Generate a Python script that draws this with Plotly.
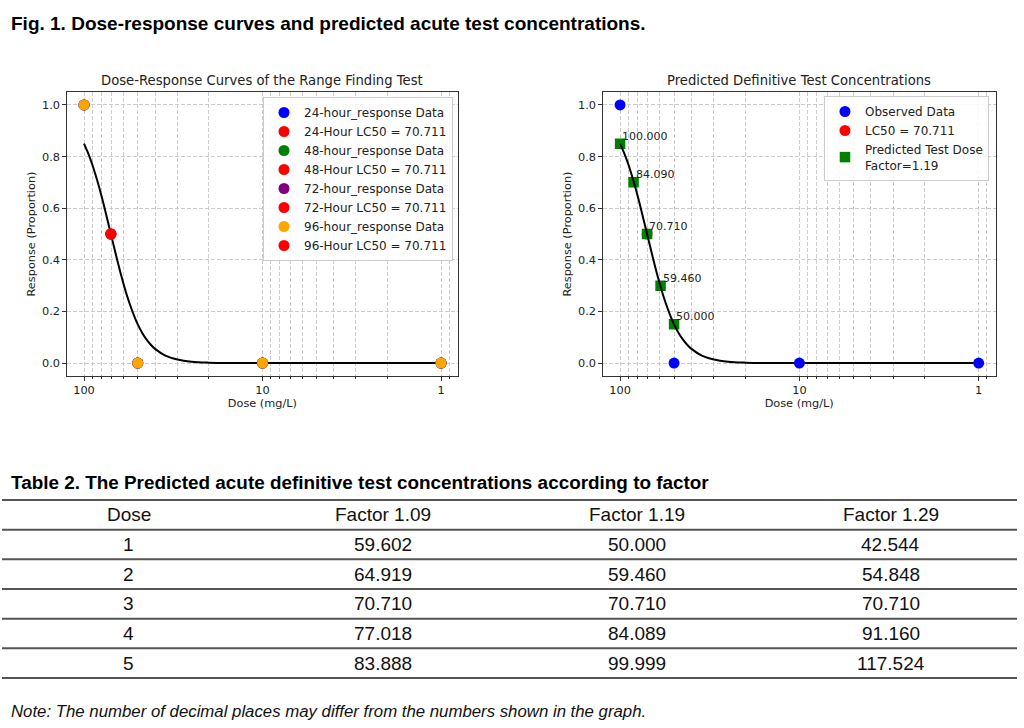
import numpy as np
import plotly.graph_objects as go

W, H = 1024, 728

# ---------------- data ----------------
hours = [24, 48, 72, 96]
hour_colors = ["#0000ff", "#008000", "#800080", "#ffa500"]
obs_dose = [100, 50, 10, 1]
resp_24 = [1.0, 0.0, 0.0, 0.0]
resp_48 = [1.0, 0.0, 0.0, 0.0]
resp_72 = [1.0, 0.0, 0.0, 0.0]
resp_96 = [1.0, 0.0, 0.0, 0.0]
hour_resp = [resp_24, resp_48, resp_72, resp_96]
lc50 = 70.711

curve_dose = [100, 97, 95, 92, 90, 87, 84.09, 80, 75, 70.711, 65, 62, 59.46, 57,
              55, 52, 50, 47, 45, 42, 40, 35, 30, 25, 20, 15, 10, 5, 2, 1]
curve_resp = [0.85, 0.829, 0.814, 0.789, 0.770, 0.738, 0.704, 0.650, 0.573, 0.50,
              0.396, 0.341, 0.296, 0.254, 0.222, 0.177, 0.150, 0.115, 0.095, 0.069,
              0.055, 0.029, 0.014, 0.0055, 0.0018, 0.0004, 0.0001, 0.0, 0.0, 0.0]

pred_dose = [100.000, 84.090, 70.710, 59.460, 50.000]
pred_resp = [0.85, 0.70, 0.50, 0.30, 0.15]
factor = 1.19

table_header = ["Dose", "Factor 1.09", "Factor 1.19", "Factor 1.29"]
table_dose = ["1", "2", "3", "4", "5"]
factor_109 = ["59.602", "64.919", "70.710", "77.018", "83.888"]
factor_119 = ["50.000", "59.460", "70.710", "84.089", "99.999"]
factor_129 = ["42.544", "54.848", "70.710", "91.160", "117.524"]

x_major = [100, 10, 1]
x_minor = [0.9, 2, 3, 4, 5, 6, 7, 8, 9, 20, 30, 40, 50, 60, 70, 80, 90]
y_ticks = [0.0, 0.2, 0.4, 0.6, 0.8, 1.0]

# ---------------- helpers ----------------
def px(x):
    return x / W

def py(y):
    return 1 - y / H

MPL = "DejaVu Sans"
ARIAL = "Liberation Sans"
TXT = "#222222"
GRID = "#cccccc"
TICK_FS = 11.3
LEG_FS = 12

fig = go.Figure()

# left chart: curve first, then markers on top
fig.add_trace(go.Scatter(x=curve_dose, y=curve_resp, mode="lines",
                         line=dict(color="black", width=2, shape="spline", smoothing=1.0),
                         xaxis="x", yaxis="y", showlegend=False, hoverinfo="skip"))
for h, c, r in zip(hours, hour_colors, hour_resp):
    fig.add_trace(go.Scatter(x=obs_dose, y=r, mode="markers",
                             marker=dict(color=c, size=11, line=dict(width=0)),
                             name=f"{h}-hour_response Data", xaxis="x", yaxis="y",
                             legend="legend"))
    fig.add_trace(go.Scatter(x=[lc50], y=[0.5], mode="markers",
                             marker=dict(color="#ff0000", size=11, line=dict(width=0)),
                             name=f"{h}-Hour LC50 = {lc50:.3f}", xaxis="x", yaxis="y",
                             legend="legend"))

# right chart
fig.add_trace(go.Scatter(x=[lc50], y=[0.5], mode="markers",
                         marker=dict(color="#ff0000", size=11, line=dict(width=0)),
                         name=f"LC50 = {lc50:.3f}", xaxis="x2", yaxis="y2",
                         legend="legend2", legendrank=2))
fig.add_trace(go.Scatter(x=pred_dose, y=pred_resp, mode="markers",
                         marker=dict(color="#008000", size=10.5, symbol="square", line=dict(width=0)),
                         name=f"Predicted Test Dose<br>Factor={factor}", xaxis="x2", yaxis="y2",
                         legend="legend2", legendrank=3))
fig.add_trace(go.Scatter(x=curve_dose, y=curve_resp, mode="lines",
                         line=dict(color="black", width=2, shape="spline", smoothing=1.0),
                         xaxis="x2", yaxis="y2", showlegend=False, hoverinfo="skip"))
fig.add_trace(go.Scatter(x=obs_dose, y=resp_96, mode="markers",
                         marker=dict(color="#0000ff", size=11, line=dict(width=0)),
                         name="Observed Data", xaxis="x2", yaxis="y2",
                         legend="legend2", legendrank=1))

annotations = []
for d, r in zip(pred_dose, pred_resp):
    annotations.append(dict(x=np.log10(d), y=r, xref="x2", yref="y2",
                            text=f"{d:.3f}", showarrow=False, xanchor="left",
                            yanchor="bottom", xshift=0, yshift=-1,
                            font=dict(family=MPL, size=11, color=TXT)))


def xaxis_def(domain, anchor):
    return dict(domain=domain, anchor=anchor, type="log", range=[2.097, -0.095],
                tickmode="array", tickvals=x_major, ticktext=[str(v) for v in x_major],
                ticks="outside", ticklen=3.5, tickwidth=1, tickcolor="#333",
                showline=True, linecolor="#333", linewidth=1, mirror=True,
                showgrid=True, gridcolor=GRID, griddash="4px,2px", gridwidth=0.8,
                minor=dict(tickmode="array", tickvals=x_minor, ticks="outside", ticklen=2,
                           tickwidth=0.8, tickcolor="#333", showgrid=True, gridcolor=GRID,
                           griddash="4px,2px", gridwidth=0.8),
                zeroline=False, automargin=False,
                tickfont=dict(family=MPL, size=TICK_FS, color=TXT),
                title=dict(text="Dose (mg/L)", font=dict(family=MPL, size=TICK_FS, color=TXT), standoff=2))


def yaxis_def(domain, anchor):
    return dict(domain=domain, anchor=anchor, range=[-0.05, 1.05],
                tickmode="array", tickvals=y_ticks, ticktext=[f"{v:.1f}" for v in y_ticks],
                ticks="outside", ticklen=3.5, tickwidth=1, tickcolor="#333",
                showline=True, linecolor="#333", linewidth=1, mirror=True,
                showgrid=True, gridcolor=GRID, griddash="4px,2px", gridwidth=0.8,
                zeroline=False, automargin=False,
                tickfont=dict(family=MPL, size=TICK_FS, color=TXT),
                title=dict(text="Response (Proportion)", font=dict(family=MPL, size=TICK_FS, color=TXT), standoff=4))


ydom = [py(376), py(92)]
layout = dict(
    width=W, height=H, margin=dict(l=0, r=0, t=0, b=0),
    paper_bgcolor="white", plot_bgcolor="white", template="none",
    xaxis=xaxis_def([px(66.7), px(458)], "y"),
    yaxis=yaxis_def(ydom, "x"),
    xaxis2=xaxis_def([px(602.7), px(995.7)], "y2"),
    yaxis2=yaxis_def(ydom, "x2"),
    legend=dict(x=px(453), y=py(97), xanchor="right", yanchor="top",
                bgcolor="rgba(255,255,255,0.85)", bordercolor="#cccccc", borderwidth=1,
                font=dict(family=MPL, size=LEG_FS, color=TXT), traceorder="normal",
                itemsizing="trace"),
    legend2=dict(x=px(989), y=py(96), xanchor="right", yanchor="top",
                 bgcolor="rgba(255,255,255,0.85)", bordercolor="#cccccc", borderwidth=1,
                 font=dict(family=MPL, size=LEG_FS, color=TXT), traceorder="normal",
                 itemsizing="trace"),
    showlegend=True,
)
fig.update_layout(**layout)

# subplot titles
annotations.append(dict(x=px(262.3), y=py(80.7), xref="paper", yref="paper",
                        text="Dose-Response Curves of the Range Finding Test", showarrow=False,
                        xanchor="center", yanchor="middle",
                        font=dict(family=MPL, size=13.2, color=TXT)))
annotations.append(dict(x=px(799.2), y=py(80.7), xref="paper", yref="paper",
                        text="Predicted Definitive Test Concentrations", showarrow=False,
                        xanchor="center", yanchor="middle",
                        font=dict(family=MPL, size=13.2, color=TXT)))

# figure title
annotations.append(dict(x=px(9), y=py(24), xref="paper", yref="paper",
                        text="<b>Fig. 1. Dose-response curves and predicted acute test concentrations.</b>",
                        showarrow=False, xanchor="left", yanchor="middle",
                        font=dict(family=ARIAL, size=19, color="black")))

# table title
annotations.append(dict(x=px(9), y=py(482), xref="paper", yref="paper",
                        text="<b>Table 2. The Predicted acute definitive test concentrations according to factor</b>",
                        showarrow=False, xanchor="left", yanchor="middle",
                        font=dict(family=ARIAL, size=18.9, color="black")))

# table
col_centers = [128.5, 382.5, 636.5, 890.5]
line_y = [500 + i * 29.67 for i in range(7)]
rows = [table_header] + [list(r) for r in zip(table_dose, factor_109, factor_119, factor_129)]
shapes = []
for i, ly in enumerate(line_y):
    shapes.append(dict(type="line", xref="paper", yref="paper", x0=px(2), x1=px(1017),
                       y0=py(ly), y1=py(ly), line=dict(color="#555555", width=2)))
for i, row in enumerate(rows):
    cy = (line_y[i] + line_y[i + 1]) / 2
    for cx, val in zip(col_centers, row):
        annotations.append(dict(x=px(cx), y=py(cy), xref="paper", yref="paper", text=val,
                                showarrow=False, xanchor="center", yanchor="middle",
                                font=dict(family=ARIAL, size=19, color="#111111")))

# note
annotations.append(dict(x=px(9), y=py(711), xref="paper", yref="paper",
                        text="<i>Note: The number of decimal places may differ from the numbers shown in the graph.</i>",
                        showarrow=False, xanchor="left", yanchor="middle",
                        font=dict(family=ARIAL, size=16.8, color="#111111")))

fig.update_layout(annotations=annotations, shapes=shapes)
fig.write_html("out.html")
